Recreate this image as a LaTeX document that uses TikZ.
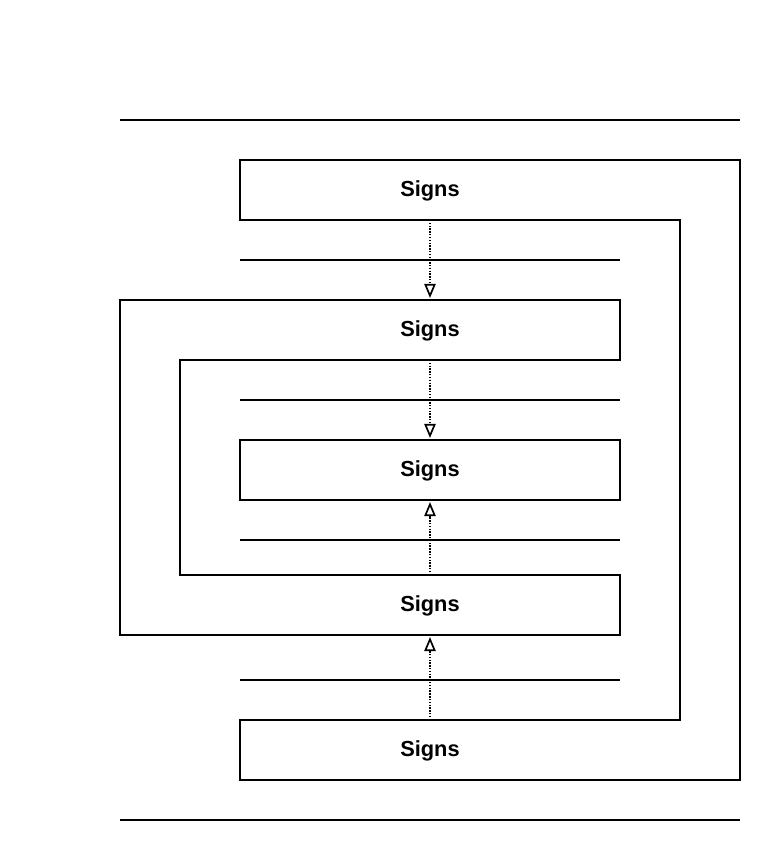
\documentclass[tikz,border=0pt]{standalone}
\usepackage{fontspec}
\setmainfont{Liberation Sans}
\usetikzlibrary{arrows.meta}

\begin{document}
\begin{tikzpicture}[x=0.025cm,y=-0.025cm,line width=1pt,
    signlbl/.style={font=\bfseries\fontsize{15.5}{19}\selectfont},
    flow/.style={dash pattern=on 1pt off 1pt,-{Triangle[open,width=8pt,length=10pt,line width=1.2pt]}}]

            \useasboundingbox (0,0) rectangle (780,860);

            % rules top and bottom
            \draw (120,120)--(740,120);
            \draw (120,820)--(740,820);

            % outer frame
            \draw (240,160)--(740,160)--(740,780)--(240,780)--(240,720)--(680,720)--(680,220)--(240,220)--cycle;
            % inner frame
            \draw (120,300)--(620,300)--(620,360)--(180,360)--(180,575)--(620,575)--(620,635)--(120,635)--cycle;
            % core box
            \draw (240,440) rectangle (620,500);

            \foreach \y in {260,400,540,680}{
              \draw (240,\y)--(620,\y);
            }

            \node[signlbl] (s1) at (430,190.5) {Signs};
            \node[signlbl] (s2) at (430,330.5) {Signs};
            \node[signlbl] (s3) at (430,470.5) {Signs};
            \node[signlbl] (s4) at (430,605.5) {Signs};
            \node[signlbl] (s5) at (430,750.5) {Signs};

            \coordinate (a1) at (430,220);
            \coordinate (b1) at (430,298);
            \coordinate (a2) at (430,360);
            \coordinate (b2) at (430,438);
            \coordinate (a3) at (430,575);
            \coordinate (b3) at (430,502);
            \coordinate (a4) at (430,720);
            \coordinate (b4) at (430,637);

            \draw[flow] (a1)--(b1);
            \draw[flow] (a2)--(b2);
            \draw[flow] (a3)--(b3);
            \draw[flow] (a4)--(b4);
\end{tikzpicture}
\end{document}
